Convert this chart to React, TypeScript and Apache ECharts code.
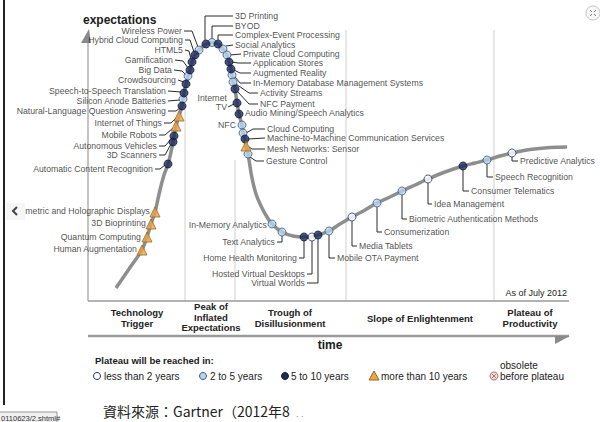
import React, { useEffect, useRef } from "react";
import * as echarts from "echarts";

// Hype curve trace (time, expectations) in chart units
const curveTime = [116,129,142,147,151,155,160,164,168,171,173,174,176,179,182,183,184,186,188,190,192,195,199,206,212,218,223,227,229,231,232,233,235,237,239,242,243,245,246,248,249,252,256,261,267,272,282,293,304,312,318,329,340,352,365,377,390,402,415,428,445,463,475,487,500,512,530,550,567];
const curveExpect = [288,269,250,237,224,212,190,175,164,152,142,136,126,116,106,99,93,84,76,70,62,55,50,44,42.5,44,49,55,62,69,75,82,89,103,114,125,133,139,146,154,160,178,194,206,217,224,232,236,237,237,235,231,224,217,210,203,197,191,185,179,172,166,163,160,156,153,149.5,147.5,147];

const techNames = [
  "3D Printing","BYOD","Complex-Event Processing","Social Analytics","Private Cloud Computing","Application Stores","Augmented Reality","In-Memory Database Management Systems","Activity Streams","NFC Payment","Internet\nTV","Audio Mining/Speech Analytics","NFC","Cloud Computing","Machine-to-Machine Communication Services","Mesh Networks: Sensor","Gesture Control",
  "Wireless Power","Hybrid Cloud Computing","HTML5","Gamification","Big Data","Crowdsourcing","Speech-to-Speech Translation","Silicon Anode Batteries","Natural-Language Question Answering","Internet of Things","Mobile Robots","Autonomous Vehicles","3D Scanners","Automatic Content Recognition","Volumetric and Holographic Displays","3D Bioprinting","Quantum Computing","Human Augmentation",
  "In-Memory Analytics","Text Analytics","Home Health Monitoring","Hosted Virtual Desktops","Virtual Worlds","Mobile OTA Payment","Media Tablets","Consumerization","Biometric Authentication Methods","Idea Management","Consumer Telematics","Speech Recognition","Predictive Analytics"
];
const techTime = [206,212,218,223,227,229,231,232,233,235,237,239,242,243,245,246,248, 199,195,192,190,188,186,184,183,182,179,176,174,173,168,155,151,147,142, 272,282,304,312,318,329,352,377,402,428,463,487,512];
const techExpect = [44,42.5,44,49,55,62,69,75,82,89,103,114,125,133,139,146,154, 50,55,62,70,76,84,93,99,106,116,126,136,142,164,212,224,237,250, 224,232,237,237,235,231,217,203,191,179,166,160,153];
// a: <2 yrs, b: 2-5 yrs, c: 5-10 yrs, d: >10 yrs
const techPlateau = ["c","b","c","b","b","c","c","b","b","c","c","c","b","b","c","d","b", "b","c","c","c","b","c","c","b","c","d","d","c","c","c","d","d","d","d", "b","b","c","a","c","b","a","b","b","a","c","b","a"];

// label layout: anchor [x, y], side ('l' = text ends at anchor, 'r' = text starts at anchor)
const labelAnchor = [[235,16],[235,26],[235,35],[235,45],[243,54],[253,63],[253,73],[253,83],[260,93],[260,104],[227,102],[245,113],[236,125],[267,129],[267,138],[267,149],[266,161],
  [182,31],[183,40],[183,50],[173,60],[172,70],[176,80],[166,91],[166,101],[166,111],[162,123],[157,135],[157,146],[157,155],[153,169],[150,211],[146,223],[141,237],[137,249],
  [267,225],[275,242],[297,258],[305,274],[305,283],[337,258],[359,246],[384,232],[409,219],[434,204],[471,191],[495,177],[520,161]];
const labelSide = ["r","r","r","r","r","r","r","r","r","r","l","r","l","r","r","r","r", "l","l","l","l","l","l","l","l","l","l","l","l","l","l","l","l","l","l", "l","l","l","l","l","r","r","r","r","r","r","r","r"];
const leaderPaths = [
  [[233,16],[205,16],[205,40]],[[233,26],[212,26],[212,39]],[[233,35],[218,35],[218,40]],[[233,45],[226,46]],[[241,54],[230,55]],
  [[251,63],[238,63],[232,62]],[[251,73],[240,73],[234,70]],[[251,83],[240,83],[235,77]],[[258,93],[249,93],[236,84]],[[258,104],[249,104],[237,91]],
  [[228,107],[234,104]],[],[],[[265,129],[253,129],[246,133]],[[265,138],[248,139]],[[265,149],[252,149],[249,147]],[[264,161],[256,161],[250,157]],
  [[184,31],[192,31],[198,47]],[[185,40],[190,40],[194,52]],[[185,50],[189,51],[191,59]],[[175,60],[183,61],[188,68]],[[174,70],[182,71],[186,75]],
  [[178,80],[184,82]],[[168,91],[181,92]],[[168,101],[180,100]],[[168,111],[176,111],[180,108]],[[164,123],[171,123],[176,118]],
  [[159,135],[165,135],[173,128]],[[159,146],[165,146],[172,138]],[[159,155],[165,155],[171,144]],[[155,169],[160,169],[165,165]],[],[],[],[],
  [],[[277,242],[282,242],[282,236]],[[299,258],[304,258],[304,241]],[[307,274],[312,274],[312,241]],[[307,283],[318,283],[318,239]],
  [[329,235],[329,258],[335,258]],[[352,221],[352,246],[357,246]],[[377,207],[377,232],[382,232]],[[402,195],[402,219],[407,219]],
  [[428,183],[428,204],[432,204]],[[463,170],[463,191],[469,191]],[[487,164],[487,177],[493,177]],[[512,157],[512,161],[518,161]]
];

const phaseNames = ["Technology\nTrigger","Peak of\nInflated\nExpectations","Trough of\nDisillusionment","Slope of Enlightenment","Plateau of\nProductivity"];
const legendNames = ["less than 2 years","2 to 5 years","5 to 10 years","more than 10 years","obsolete\nbefore plateau"];

const FONT = "Liberation Sans, Arial, sans-serif";
const markerStyle: Record<string, any> = {
  a: { symbol: "circle", size: 8, color: "#ffffff", border: "#23335f" },
  b: { symbol: "circle", size: 8, color: "#b9d3ea", border: "#3d5b86" },
  c: { symbol: "circle", size: 8, color: "#1b2a5a", border: "#0e1a40" },
  d: { symbol: "triangle", size: 10, color: "#e9a54c", border: "#a0661c" },
};

function buildOption() {
  const curve = curveTime.map((t, i) => [t, curveExpect[i]]);
  const markerSeries = ["a", "b", "c", "d"].map((k) => ({
    type: "scatter",
    name: k,
    z: 5,
    symbol: markerStyle[k].symbol,
    symbolSize: markerStyle[k].size,
    itemStyle: { color: markerStyle[k].color, borderColor: markerStyle[k].border, borderWidth: 1 },
    data: techNames.map((n, i) => (techPlateau[i] === k ? [techTime[i], techExpect[i]] : null)).filter(Boolean),
    silent: true,
  }));
  const labelSeries = ["l", "r"].map((s) => ({
    type: "scatter",
    z: 6,
    symbolSize: 0.1,
    itemStyle: { color: "transparent" },
    silent: true,
    label: {
      show: true,
      position: s === "l" ? "left" : "right",
      distance: 0,
      formatter: (p: any) => p.data.name,
      fontFamily: FONT,
      fontSize: 8.7,
      lineHeight: 9,
      color: "#1a1a1a",
    },
    data: techNames
      .map((n, i) => (labelSide[i] === s ? { name: n, value: labelAnchor[i] } : null))
      .filter(Boolean),
  }));

  const txt = (x: number, y: number, text: string, o: any = {}) => ({
    type: "text",
    x,
    y,
    z: o.z ?? 10,
    style: {
      text,
      fontFamily: o.family ?? FONT,
      fontSize: o.size ?? 10,
      fontWeight: o.weight ?? "normal",
      fill: o.fill ?? "#1a1a1a",
      align: o.align ?? "left",
      verticalAlign: "middle",
      lineHeight: o.lh,
    },
  });
  const ln = (x1: number, y1: number, x2: number, y2: number, stroke: string, w: number, z = 1) => ({
    type: "line",
    shape: { x1, y1, x2, y2 },
    style: { stroke, lineWidth: w },
    z,
  });

  const phaseX = [137, 211, 290, 420, 530];
  const phaseY = [318, 317, 318, 318, 318];
  const legX = [104, 210, 291, 381, 500];
  const legSymX = [97, 203, 285, 374, 494];

  const graphic: any[] = [
    ln(4, 0, 4, 405, "#222", 2),
    ln(88, 42, 88, 301, "#b0b0b0", 1.5),
    { type: "polygon", shape: { points: [[81, 43], [89, 29], [91, 43]] }, style: { fill: "#8a8a8a" }, z: 1 },
    ln(185, 105, 185, 301, "#cfcfcf", 1),
    ln(235, 160, 235, 301, "#cfcfcf", 1),
    ln(346, 30, 346, 301, "#cfcfcf", 1),
    ln(494, 30, 494, 301, "#cfcfcf", 1),
    ln(88, 301, 569, 301, "#9a9a9a", 1.5),
    ln(88, 336, 569, 336, "#9a9a9a", 2.5),
    { type: "polygon", shape: { points: [[555, 336], [570, 336], [555, 344]] }, style: { fill: "#8a8a8a" }, z: 1 },
    txt(83, 20, "expectations", { size: 12, weight: "bold" }),
    txt(567, 293, "As of July 2012", { size: 9, align: "right" }),
    txt(330, 345, "time", { size: 12, weight: "bold", align: "center" }),
    ...phaseNames.map((p, i) => txt(phaseX[i], phaseY[i], p, { size: 9.5, weight: "bold", align: "center", lh: 10.5, fill: "#222" })),
    txt(95, 360, "Plateau will be reached in:", { size: 9.5, weight: "bold" }),
    ...legendNames.map((n, i) => txt(legX[i], i === 4 ? 370.5 : 376, n, { size: 10, lh: 11, fill: "#222" })),
    { type: "circle", shape: { cx: legSymX[0], cy: 376, r: 3.5 }, style: { fill: "#fff", stroke: "#23335f", lineWidth: 1 }, z: 5 },
    { type: "circle", shape: { cx: legSymX[1], cy: 376, r: 3.5 }, style: { fill: "#b9d3ea", stroke: "#3d5b86", lineWidth: 1 }, z: 5 },
    { type: "circle", shape: { cx: legSymX[2], cy: 376, r: 3.5 }, style: { fill: "#1b2a5a", stroke: "#0e1a40", lineWidth: 1 }, z: 5 },
    { type: "polygon", shape: { points: [[legSymX[3] - 5, 380], [legSymX[3], 371], [legSymX[3] + 5, 380]] }, style: { fill: "#e9a54c", stroke: "#a0661c", lineWidth: 1 }, z: 5 },
    { type: "circle", shape: { cx: legSymX[4], cy: 376, r: 4 }, style: { fill: "#f4dede", stroke: "#b07070", lineWidth: 1 }, z: 5 },
    ln(legSymX[4] - 2.5, 373.5, legSymX[4] + 2.5, 378.5, "#b07070", 1, 6),
    ln(legSymX[4] - 2.5, 378.5, legSymX[4] + 2.5, 373.5, "#b07070", 1, 6),
    txt(103, 411, "資料來源：Gartner（2012年8", { size: 14, family: "Noto Sans CJK TC, sans-serif", fill: "#222" }),
    txt(296, 414, ". .", { size: 9, fill: "#888" }),
    // overlay box on the left (page navigation)
    { type: "rect", shape: { x: 6, y: 203, width: 19, height: 17 }, style: { fill: "#f6f6f6" }, z: 100 },
    { type: "polyline", shape: { points: [[17, 207], [13, 211], [17, 215]] }, style: { stroke: "#444", lineWidth: 2, fill: null }, z: 101 },
    // status bar fragment
    { type: "rect", shape: { x: -1, y: 412, width: 58, height: 12 }, style: { fill: "#f0f0f0", stroke: "#999", lineWidth: 1 }, z: 100 },
    txt(1, 418, "0110623/2.shtml#", { size: 7.5, fill: "#333", z: 101 }),
    // expand icon top-right
    { type: "circle", shape: { cx: 593, cy: 13, r: 7 }, style: { fill: "#f7f7f7", stroke: "#c4c4c4", lineWidth: 1 }, z: 5 },
    ln(590, 10, 592, 12, "#777", 1, 6),
    ln(596, 10, 594, 12, "#777", 1, 6),
    ln(590, 16, 592, 14, "#777", 1, 6),
    ln(596, 16, 594, 14, "#777", 1, 6),
  ];

  return {
    animation: false,
    backgroundColor: "#ffffff",
    grid: { left: 0, top: 0, width: 600, height: 422, show: false },
    xAxis: { type: "value", min: 0, max: 600, show: false },
    yAxis: { type: "value", min: 0, max: 422, inverse: true, show: false },
    graphic,
    series: [
      {
        type: "line",
        z: 3,
        data: curve,
        smooth: 0.3,
        symbol: "none",
        silent: true,
        lineStyle: { color: "#8e8e8e", width: 3.5 },
      },
      {
        type: "lines",
        coordinateSystem: "cartesian2d",
        polyline: true,
        z: 4,
        silent: true,
        lineStyle: { color: "#2a2a2a", width: 1, opacity: 1 },
        data: leaderPaths.filter((p) => p.length > 1).map((p) => ({ coords: p })),
      },
      ...markerSeries,
      ...labelSeries,
    ],
  };
}

export default function App() {
  const ref = useRef<HTMLDivElement>(null);
  useEffect(() => {
    const chart = echarts.init(ref.current!, null, { renderer: "svg" });
    chart.setOption(buildOption() as any);
    return () => chart.dispose();
  }, []);
  return (
    <div
      ref={ref}
      style={{ position: "fixed", left: 0, top: 0, width: 600, height: 422, background: "#fff" }}
    />
  );
}
